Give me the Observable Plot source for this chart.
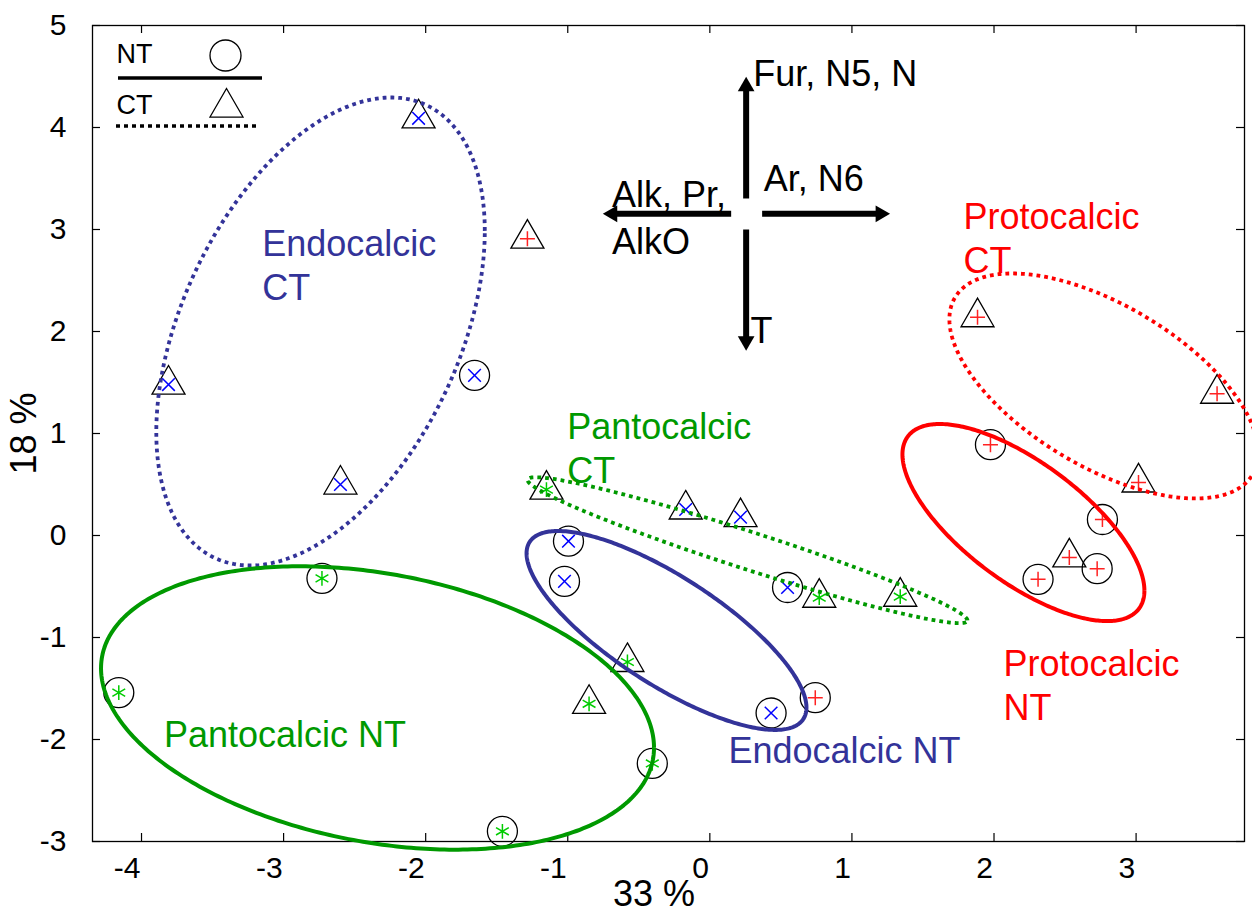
<!DOCTYPE html>
<html><head><meta charset="utf-8">
<script src="https://cdn.jsdelivr.net/npm/d3@7"></script>
<script src="https://cdn.jsdelivr.net/npm/@observablehq/plot@0.6"></script>
<style>body{margin:0;background:#fff;} #chart svg{display:block;}</style>
</head><body><div id="chart"></div>
<script>
// ---- axis ticks ----
const xTicks = [-4, -3, -2, -1, 0, 1, 2, 3];
const xTickLabels = ["-4", "-3", "-2", "-1", "0", "1", "2", "3"];
const yTicks = [-3, -2, -1, 0, 1, 2, 3, 4, 5];
const yTickLabels = ["-3", "-2", "-1", "0", "1", "2", "3", "4", "5"];
const xLabel = "33 %";
const yLabel = "18 %";

// ---- scores (PC1 33 %, PC2 18 %) ----
const endoCT = [[-2.05, 4.09], [-3.81, 1.48], [-2.60, 0.50], [-0.17, 0.255], [0.216, 0.18]];
const endoNT = [[-1.656, 1.57], [-0.995, -0.056], [-1.023, -0.45], [0.547, -0.51], [0.431, -1.74]];
const pantoCT = [[-1.15, 0.45], [0.77, -0.61], [-0.58, -1.24], [-0.85, -1.65], [1.34, -0.60]];
const pantoNT = [[-4.16, -1.54], [-2.73, -0.42], [-1.46, -2.90], [-0.405, -2.235]];
const protoCT = [[-1.284, 2.91], [1.884, 2.14], [3.57, 1.39], [3.017, 0.52], [2.53, -0.215]];
const protoNT = [[1.975, 0.89], [2.763, 0.157], [2.726, -0.325], [2.31, -0.43], [0.742, -1.59]];

// ---- group ellipses: centre, half-extents along x and y, correlation ----
const ellipses = [
  {group: "Endocalcic", type: "CT", cx: -2.740, cy: 2.000, sx: 1.156, sy: 2.294, rho: 0.43},
  {group: "Endocalcic", type: "NT", cx: -0.305, cy: -0.931, sx: 0.985, sy: 0.975, rho: -0.775},
  {group: "Pantocalcic", type: "NT", cx: -2.339, cy: -1.691, sx: 1.946, sy: 1.389, rho: -0.28},
  {group: "Pantocalcic", type: "CT", cx: 0.265, cy: -0.144, sx: 1.548, sy: 0.715, rho: -0.963},
  {group: "Protocalcic", type: "NT", cx: 2.207, cy: 0.127, sx: 0.8515, sy: 0.966, rho: -0.691},
  {group: "Protocalcic", type: "CT", cx: 2.773, cy: 1.466, sx: 1.087, sy: 1.103, rho: -0.593}
];

// ---- group labels ----
const groupLabels = [
  {group: "Endocalcic", text: "Endocalcic\nCT", x: -3.151, y: 2.990},
  {group: "Pantocalcic", text: "Pantocalcic\nCT", x: -1.004, y: 1.193},
  {group: "Pantocalcic", text: "Pantocalcic NT", x: -3.842, y: -1.824},
  {group: "Protocalcic", text: "Protocalcic\nCT", x: 1.785, y: 3.255},
  {group: "Protocalcic", text: "Protocalcic\nNT", x: 2.066, y: -1.127},
  {group: "Endocalcic", text: "Endocalcic NT", x: 0.131, y: -1.980}
];

// ---- loading arrows ----
const arrows = [
  {dir: "up", x1: 0.2555, y1: 3.304, x2: 0.2555, y2: 4.493},
  {dir: "down", x1: 0.2555, y1: 3.000, x2: 0.2555, y2: 1.814},
  {dir: "left", x1: 0.150, y1: 3.154, x2: -0.751, y2: 3.154},
  {dir: "right", x1: 0.368, y1: 3.154, x2: 1.266, y2: 3.154}
];
const arrowLabels = [
  {text: "Fur, N5, N", x: 0.305, y: 4.657},
  {text: "Ar, N6", x: 0.379, y: 3.627},
  {text: "Alk, Pr,\nAlkO", x: -0.688, y: 3.471},
  {text: "T", x: 0.286, y: 2.140}
];
const legendTypes = ["NT", "CT"];

// ---- styles ----
const FONT = "Liberation Sans, Arial, Helvetica, sans-serif";
const markColor = {Endocalcic: "#0000ff", Pantocalcic: "#00cc00", Protocalcic: "#ff2222"};
const ringColor = {Endocalcic: "#333399", Pantocalcic: "#009900", Protocalcic: "#ff0000"};
const innerSymbol = {Endocalcic: "times", Pantocalcic: "asterisk", Protocalcic: "plus"};
const innerR = {Endocalcic: 5.8, Pantocalcic: 7, Protocalcic: 4.9};

const W = 1252, H = 913;
const mL = 92, mR = 8, mT = 25, mB = 72;
const plotW = W - mL - mR, plotH = H - mT - mB;
const LABEL_FS = 36;
const topShift = lh => -0.71 * (lh - 1) * LABEL_FS; // Plot scales the top offset by lineHeight

const toPts = (arr, group, type) => arr.map(([x, y]) => ({x, y, group, type}));
const points = [
  ...toPts(endoCT, "Endocalcic", "CT"), ...toPts(endoNT, "Endocalcic", "NT"),
  ...toPts(pantoCT, "Pantocalcic", "CT"), ...toPts(pantoNT, "Pantocalcic", "NT"),
  ...toPts(protoCT, "Protocalcic", "CT"), ...toPts(protoNT, "Protocalcic", "NT")
];

function outline(e, n = 360) {
  const k = Math.sqrt(1 - e.rho * e.rho);
  return d3.range(n + 1).map(i => {
    const t = 2 * Math.PI * i / n;
    return {x: e.cx + e.sx * Math.cos(t), y: e.cy + e.sy * (e.rho * Math.cos(t) + k * Math.sin(t))};
  });
}

const marks = [];
// frame and inward ticks
marks.push(Plot.frame({stroke: "black", strokeWidth: 1.3}));
marks.push(Plot.ruleX(xTicks, {x: d => d, insetTop: plotH - 8, stroke: "black", strokeWidth: 1.2}));
marks.push(Plot.ruleX(xTicks, {x: d => d, insetBottom: plotH - 8, stroke: "black", strokeWidth: 1.2}));
marks.push(Plot.ruleY(yTicks, {y: d => d, insetRight: plotW - 8, stroke: "black", strokeWidth: 1.2}));
marks.push(Plot.ruleY(yTicks, {y: d => d, insetLeft: plotW - 8, stroke: "black", strokeWidth: 1.2}));
// tick labels
marks.push(Plot.text(xTicks, {x: d => d, text: (d, i) => xTickLabels[i], frameAnchor: "bottom", dy: 27, dx: -1,
  textAnchor: "end", lineAnchor: "middle", fontSize: 30, fontFamily: FONT, fill: "black"}));
marks.push(Plot.text(yTicks, {y: d => d, text: (d, i) => yTickLabels[i], frameAnchor: "left", dx: -26,
  textAnchor: "end", lineAnchor: "middle", fontSize: 30, fontFamily: FONT, fill: "black"}));
marks.push(Plot.text([xLabel], {frameAnchor: "bottom", dx: -14.5, dy: 53, textAnchor: "middle", lineAnchor: "middle", fontSize: LABEL_FS, fontFamily: FONT, fill: "black"}));
marks.push(Plot.text([yLabel], {frameAnchor: "left", dx: -68, rotate: -90, textAnchor: "middle", lineAnchor: "middle", fontSize: LABEL_FS, fontFamily: FONT, fill: "black"}));

// outer marker: circle (NT) or triangle (CT)
marks.push(Plot.dot(points.filter(d => d.type === "NT"), {x: "x", y: "y", r: 15, symbol: "circle", fill: "none", stroke: "black", strokeWidth: 1.3}));
marks.push(Plot.dot(points.filter(d => d.type === "CT"), {x: "x", y: "y", r: 12.25, symbol: "triangle", fill: "none", stroke: "black", strokeWidth: 1.3}));
// inner marker by group
for (const g of Object.keys(markColor)) {
  marks.push(Plot.dot(points.filter(d => d.group === g), {x: "x", y: "y", r: innerR[g], symbol: innerSymbol[g],
    stroke: markColor[g], fill: "none", strokeWidth: 1.5}));
}
// ellipses
for (const e of ellipses) {
  marks.push(Plot.line(outline(e), {x: "x", y: "y", stroke: ringColor[e.group],
    strokeWidth: e.type === "NT" ? 4 : 3.8, strokeDasharray: e.type === "NT" ? null : "3.8,4",
    strokeLinecap: "butt", curve: "linear"}));
}
// group labels
marks.push(Plot.text(groupLabels, {x: "x", y: "y", text: "text", fill: d => ringColor[d.group],
  textAnchor: "start", lineAnchor: "top", lineHeight: 1.22, dy: topShift(1.22), fontSize: LABEL_FS, fontFamily: FONT}));
// arrows
marks.push(Plot.arrow(arrows, {x1: "x1", y1: "y1", x2: "x2", y2: "y2", headLength: 0, insetEnd: 12,
  stroke: "black", strokeWidth: 6, strokeLinecap: "butt"}));
const headOff = 9.3;
const headSpec = {up: [0, headOff, 0], down: [0, -headOff, 180], left: [headOff, 0, 270], right: [-headOff, 0, 90]};
for (const a of arrows) {
  const [dx, dy, rot] = headSpec[a.dir];
  marks.push(Plot.dot([a], {x: "x2", y: "y2", symbol: "triangle", r: 6.2, fill: "black", stroke: "none", rotate: rot, dx, dy}));
}
marks.push(Plot.text(arrowLabels, {x: "x", y: "y", text: "text", fill: "black", textAnchor: "start", lineAnchor: "top",
  lineHeight: 1.31, dy: topShift(1.31), fontSize: LABEL_FS, fontFamily: FONT}));

// legend (inside top-left of the frame)
marks.push(Plot.text([legendTypes[0]], {frameAnchor: "top-left", dx: 24, dy: 29, textAnchor: "start", lineAnchor: "middle", fontSize: 27, fontFamily: FONT, fill: "black"}));
marks.push(Plot.text([legendTypes[1]], {frameAnchor: "top-left", dx: 24, dy: 80, textAnchor: "start", lineAnchor: "middle", fontSize: 27, fontFamily: FONT, fill: "black"}));
marks.push(Plot.dot([0], {frameAnchor: "top-left", dx: 133, dy: 30, r: 15.5, symbol: "circle", fill: "none", stroke: "black", strokeWidth: 1.3}));
marks.push(Plot.dot([0], {frameAnchor: "top-left", dx: 134, dy: 82, r: 12.25, symbol: "triangle", fill: "none", stroke: "black", strokeWidth: 1.3}));
marks.push((index, scales, values, dims) => {
  const g = d3.create("svg:g");
  const x0 = dims.marginLeft, y0 = dims.marginTop;
  g.append("line").attr("x1", x0 + 26).attr("x2", x0 + 170).attr("y1", y0 + 53).attr("y2", y0 + 53)
    .attr("stroke", "black").attr("stroke-width", 3.5);
  g.append("line").attr("x1", x0 + 24).attr("x2", x0 + 167).attr("y1", y0 + 101).attr("y2", y0 + 101)
    .attr("stroke", "black").attr("stroke-width", 3.5).attr("stroke-dasharray", "4,4");
  return g.node();
});

const chart = Plot.plot({
  width: W, height: H,
  marginLeft: mL, marginRight: mR, marginTop: mT, marginBottom: mB,
  x: {domain: [-4.345, 3.763], axis: null},
  y: {domain: [-3, 5], axis: null},
  style: {fontFamily: FONT, background: "white", overflow: "visible"},
  marks
});
document.getElementById("chart").append(chart);
</script>
</body></html>
